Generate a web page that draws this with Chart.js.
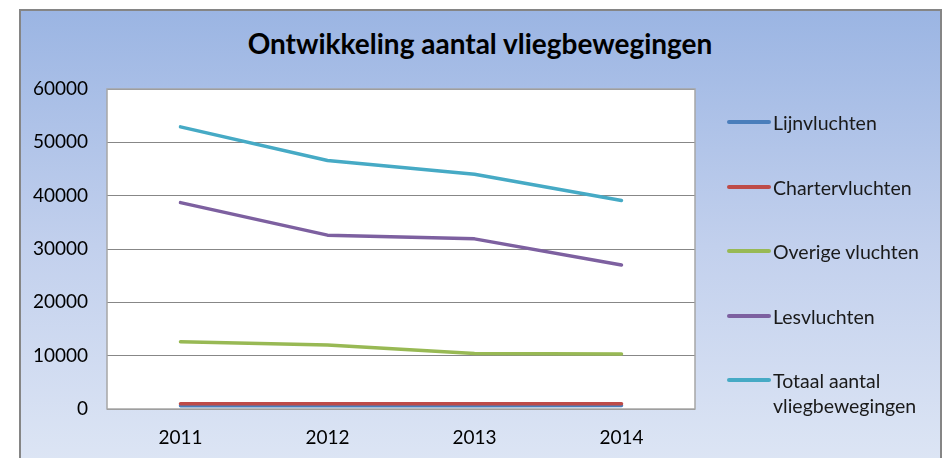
<!DOCTYPE html>
<html>
<head>
<meta charset="utf-8">
<script src="https://cdn.jsdelivr.net/npm/chart.js@4.4.1/dist/chart.umd.min.js"></script>
<style>
    body { margin: 0; background: #fff; }
    #wrap { position: relative; width: 946px; height: 458px; overflow: hidden; }
    #box {
        position: absolute; left: 19px; top: 9px; width: 919px; height: 470px;
        border: 2px solid #858585;
        background: linear-gradient(to bottom, #9bb5e3 0%, #c2d0ed 50%, #dfe7f5 100%);
    }
    #title {
        position: absolute; left: 0; width: 960px; top: 26px; text-align: center;
        font: bold 28px Lato, sans-serif; color: #000;
    }
    canvas { position: absolute; left: 0; top: 0; }
    .item { position: absolute; left: 727px; font: 19.5px Lato, sans-serif; color: #1a1a1a; line-height: 25px; }
    .item span.swatch { position: absolute; left: 0; top: 10px; width: 44px; height: 4px; border-radius: 2px; }
    .item span.txt { display: block; margin-left: 46px; }
</style>
</head>
<body>
<div id="wrap">
    <div id="box"></div>
    <div id="title">Ontwikkeling aantal vliegbewegingen</div>
    <canvas id="chart" width="946" height="458"></canvas>
    <div id="legend"></div>
</div>
<script>
const years = ["2011", "2012", "2013", "2014"];
const seriesNames = ["Lijnvluchten", "Chartervluchten", "Overige vluchten", "Lesvluchten", "Totaal aantal vliegbewegingen"];
const seriesColors = ["#4a7ebb", "#be4b48", "#98b954", "#7d60a0", "#46aac5"];

const lijn = [600, 600, 600, 650];
const charter = [1000, 1000, 1000, 1000];
const overige = [12600, 12000, 10400, 10300];
const les = [38700, 32600, 31900, 27000];
const totaal = [52900, 46600, 44000, 39100];

const yTicks = [0, 10000, 20000, 30000, 40000, 50000, 60000];

const allSeries = [lijn, charter, overige, les, totaal];

// white plot area + light border, like the original
const plotArea = {
    id: "plotArea",
    beforeDraw(chart) {
        const { ctx, chartArea: a } = chart;
        ctx.save();
        ctx.fillStyle = "#ffffff";
        ctx.fillRect(a.left, a.top, a.right - a.left, a.bottom - a.top);
        ctx.restore();
    },
    afterDraw(chart) {
        const { ctx, chartArea: a } = chart;
        ctx.save();
        ctx.strokeStyle = "#a6a6a6";
        ctx.lineWidth = 1.5;
        ctx.strokeRect(a.left, a.top, a.right - a.left, a.bottom - a.top);
        ctx.restore();
    }
};

const datasets = allSeries.map((values, i) => ({
    label: seriesNames[i],
    data: values,
    borderColor: seriesColors[i],
    backgroundColor: seriesColors[i],
    borderWidth: 3.5,
    borderCapStyle: "round",
    borderJoinStyle: "round",
    pointRadius: 0,
    tension: 0,
    order: allSeries.length - i
}));

new Chart(document.getElementById("chart"), {
    type: "line",
    data: { labels: years, datasets: datasets },
    plugins: [plotArea],
    options: {
        responsive: false,
        animation: false,
        layout: { padding: { left: 0, right: 251, top: 89, bottom: 0 } },
        plugins: { legend: { display: false }, title: { display: false }, tooltip: { enabled: false } },
        scales: {
            x: {
                offset: true,
                grid: { display: false, drawTicks: false },
                border: { display: false },
                ticks: { padding: 17, color: "#000", font: { family: "Lato", size: 19 } },
                afterFit(scale) { scale.height = 49; }
            },
            y: {
                min: 0,
                max: 60000,
                afterBuildTicks(scale) { scale.ticks = yTicks.map(v => ({ value: v })); },
                grid: { color: "#878787", lineWidth: 1, drawTicks: false },
                border: { display: false },
                ticks: {
                    padding: 19, color: "#000", font: { family: "Lato", size: 19 },
                    callback: v => String(v)
                },
                afterFit(scale) { scale.width = 107; }
            }
        }
    }
});

// legend on the right, built from the same names and colours
const legend = document.getElementById("legend");
const legendTops = [110, 175, 239, 304, 368];
seriesNames.forEach((name, i) => {
    const item = document.createElement("div");
    item.className = "item";
    item.style.top = legendTops[i] + "px";
    const label = i === 4 ? "Totaal aantal<br>vliegbewegingen" : name;
    item.innerHTML = `<span class="swatch" style="background:${seriesColors[i]}"></span><span class="txt">${label}</span>`;
    legend.appendChild(item);
});
</script>
</body>
</html>
